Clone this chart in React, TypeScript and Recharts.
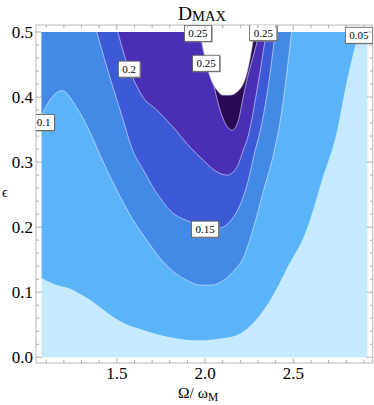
import React from 'react';
import { ComposedChart, Area, Line, Scatter, XAxis, YAxis } from 'recharts';

// ---- axes ----
const xDomain: [number, number] = [1.042, 2.95];
const yDomain: [number, number] = [-0.0088, 0.5108];
const xTicks = [1.1, 1.2, 1.3, 1.4, 1.5, 1.6, 1.7, 1.8, 1.9, 2.0, 2.1, 2.2, 2.3, 2.4, 2.5, 2.6, 2.7, 2.8, 2.9];
const xMajor = [1.5, 2.0, 2.5];
const yTicks = [0, 0.02, 0.04, 0.06, 0.08, 0.1, 0.12, 0.14, 0.16, 0.18, 0.2, 0.22, 0.24, 0.26, 0.28, 0.3, 0.32, 0.34, 0.36, 0.38, 0.4, 0.42, 0.44, 0.46, 0.48, 0.5];
const yMajor = [0, 0.1, 0.2, 0.3, 0.4, 0.5];

// ---- data region ----
const regionX = [1.074, 2.92];
const regionBottom = 0;
const regionTop = 0.5;

// ---- contour boundaries (lower edge of region D > level) ----
const c05X = [1.074, 1.10, 1.15, 1.23, 1.30, 1.35, 1.42, 1.48, 1.56, 1.65, 1.75, 1.84, 1.97, 2.085, 2.18, 2.27, 2.37, 2.466, 2.574, 2.66, 2.75, 2.80, 2.87];
const c05Y = [0.122, 0.118, 0.112, 0.106, 0.096, 0.088, 0.074, 0.062, 0.050, 0.042, 0.034, 0.029, 0.026, 0.029, 0.034, 0.052, 0.088, 0.138, 0.195, 0.27, 0.35, 0.42, 0.5];

const c10X = [1.074, 1.12, 1.19, 1.27, 1.35, 1.40, 1.50, 1.59, 1.67, 1.74, 1.82, 1.90, 1.97, 2.04, 2.085, 2.16, 2.22, 2.27, 2.33, 2.386, 2.43, 2.46, 2.49];
const c10Y = [0.372, 0.395, 0.41, 0.385, 0.345, 0.314, 0.257, 0.212, 0.18, 0.154, 0.132, 0.118, 0.111, 0.111, 0.115, 0.132, 0.155, 0.195, 0.255, 0.31, 0.37, 0.43, 0.5];

const c15X = [1.386, 1.46, 1.53, 1.59, 1.65, 1.72, 1.80, 1.915, 2.0, 2.07, 2.16, 2.24, 2.284, 2.31, 2.36, 2.398];
const c15Y = [0.5, 0.431, 0.37, 0.318, 0.288, 0.255, 0.226, 0.208, 0.199, 0.198, 0.215, 0.267, 0.318, 0.345, 0.42, 0.5];

const c20X = [1.506, 1.557, 1.59, 1.648, 1.727, 1.818, 1.915, 1.99, 2.05, 2.125, 2.18, 2.216, 2.244, 2.30, 2.347];
const c20Y = [0.5, 0.452, 0.43, 0.40, 0.38, 0.354, 0.323, 0.303, 0.288, 0.28, 0.292, 0.318, 0.34, 0.42, 0.5];

const c25X = [1.99, 2.02, 2.045, 2.085, 2.12, 2.153, 2.19, 2.216, 2.245, 2.27, 2.31];
const c25Y = [0.5, 0.46, 0.425, 0.38, 0.357, 0.349, 0.365, 0.40, 0.435, 0.46, 0.5];

const cTopX = [1.97, 2.0, 2.03, 2.07, 2.10, 2.14, 2.19, 2.24, 2.27, 2.28];
const cTopY = [0.5, 0.46, 0.43, 0.41, 0.403, 0.403, 0.41, 0.44, 0.483, 0.5];

// ---- contour labels ----
const labelText = ['0.25', '0.25', '0.25', '0.05', '0.2', '0.1', '0.15'];
const labelX = [1.96, 2.006, 2.33, 2.872, 1.57, 1.085, 2.0];
const labelY = [0.498, 0.452, 0.499, 0.495, 0.443, 0.361, 0.197];

// ---- colours ----
const colBase = '#c5eafd';
const col05 = '#5cb4f8';
const col10 = '#428ae6';
const col15 = '#3d5ad6';
const col20 = '#4a2fb4';
const col25 = '#2b0a55';
const colTop = '#ffffff';
const lineCol = 'rgba(235,235,255,0.65)';

const band = (xs: number[], ys: number[]) =>
  xs.map((x, i) => ({ x, lo: ys[i], r: [ys[i], regionTop] }));

const baseData = regionX.map((x) => ({ x, r: [regionBottom, regionTop] }));
const d05 = band(c05X, c05Y);
const d10 = band(c10X, c10Y);
const d15 = band(c15X, c15Y);
const d20 = band(c20X, c20Y);
const d25 = band(c25X, c25Y);
const dTop = band(cTopX, cTopY);
const labels = labelText.map((t, i) => ({ x: labelX[i], y: labelY[i], t }));

const SERIF = '"Liberation Serif", "Times New Roman", serif';
const serifStyle = { fontFamily: SERIF };
const tickCol = '#9a9a9a';
const frameCol = '#b8b8b8';

const isIn = (arr: number[], v: number) => arr.some((m) => Math.abs(m - v) < 1e-6);

const BottomTick = (p: any) => {
  const v = p.payload.value;
  const major = isIn(xMajor, v);
  return (
    <g>
      <line x1={p.x} x2={p.x} y1={p.y} y2={p.y - (major ? 5 : 3)} stroke={tickCol} strokeWidth={0.8} />
      {major && (
        <text x={p.x} y={p.y + 16} textAnchor="middle" fontSize={17} style={serifStyle} fill="#000">
          {v.toFixed(1)}
        </text>
      )}
    </g>
  );
};

const TopTick = (p: any) => {
  const v = p.payload.value;
  const major = isIn(xMajor, v);
  return <line x1={p.x} x2={p.x} y1={p.y} y2={p.y + (major ? 5 : 3)} stroke={tickCol} strokeWidth={0.8} />;
};

const LeftTick = (p: any) => {
  const v = p.payload.value;
  const major = isIn(yMajor, v);
  return (
    <g>
      <line x1={p.x} x2={p.x + (major ? 6 : 3)} y1={p.y} y2={p.y} stroke={tickCol} strokeWidth={0.8} />
      {major && (
        <text x={p.x - 3} y={p.y + 5.8} textAnchor="end" fontSize={17} style={serifStyle} fill="#000">
          {v.toFixed(1)}
        </text>
      )}
    </g>
  );
};

const RightTick = (p: any) => {
  const v = p.payload.value;
  const major = isIn(yMajor, v);
  return <line x1={p.x} x2={p.x - (major ? 6 : 3)} y1={p.y} y2={p.y} stroke={tickCol} strokeWidth={0.8} />;
};

const LabelBox = (p: any) => {
  const { cx, cy, payload } = p;
  const t: string = payload.t;
  let tw = 0;
  for (const ch of t) tw += ch === '.' ? 2.75 : 5.5;
  const w = tw + 8;
  const h = 16;
  return (
    <g>
      <rect x={cx - w / 2 + 1} y={cy - h / 2 + 1} width={w} height={h} fill="#8c8c8c" />
      <rect x={cx - w / 2} y={cy - h / 2} width={w} height={h} fill="#fff" stroke="#555" strokeWidth={0.8} />
      <text x={cx} y={cy + 4} textAnchor="middle" fontSize={11} style={serifStyle} fill="#000">
        {t}
      </text>
    </g>
  );
};

export default function App() {
  return (
    <div style={{ position: 'absolute', left: 0, top: 0, width: 374, height: 405, background: '#fff', fontFamily: SERIF }}>
      <ComposedChart width={374} height={405} margin={{ top: 24, right: 0.3, bottom: 41, left: 35 }}>
        <XAxis
          xAxisId={0}
          dataKey="x"
          type="number"
          domain={xDomain}
          allowDataOverflow
          ticks={xTicks}
          interval={0}
          height={1}
          tickSize={0}
          tickMargin={0}
          tick={BottomTick}
          tickLine={false}
          axisLine={{ stroke: frameCol }}
        />
        <XAxis
          xAxisId="top"
          orientation="top"
          dataKey="x"
          type="number"
          domain={xDomain}
          allowDataOverflow
          ticks={xTicks}
          interval={0}
          height={1}
          tickSize={0}
          tickMargin={0}
          tick={TopTick}
          tickLine={false}
          axisLine={{ stroke: frameCol }}
        />
        <YAxis
          yAxisId={0}
          type="number"
          domain={yDomain}
          allowDataOverflow
          ticks={yTicks}
          interval={0}
          width={1}
          tickSize={0}
          tickMargin={0}
          tick={LeftTick}
          tickLine={false}
          axisLine={{ stroke: frameCol }}
        />
        <YAxis
          yAxisId="right"
          orientation="right"
          type="number"
          domain={yDomain}
          allowDataOverflow
          ticks={yTicks}
          interval={0}
          width={1}
          tickSize={0}
          tickMargin={0}
          tick={RightTick}
          tickLine={false}
          axisLine={{ stroke: frameCol }}
        />
        <Area data={baseData} dataKey="r" type="linear" fill={colBase} fillOpacity={1} stroke="none" isAnimationActive={false} />
        <Area data={d05} dataKey="r" type="monotone" fill={col05} fillOpacity={1} stroke="none" isAnimationActive={false} />
        <Area data={d10} dataKey="r" type="monotone" fill={col10} fillOpacity={1} stroke="none" isAnimationActive={false} />
        <Area data={d15} dataKey="r" type="monotone" fill={col15} fillOpacity={1} stroke="none" isAnimationActive={false} />
        <Area data={d20} dataKey="r" type="monotone" fill={col20} fillOpacity={1} stroke="none" isAnimationActive={false} />
        <Area data={d25} dataKey="r" type="monotone" fill={col25} fillOpacity={1} stroke="none" isAnimationActive={false} />
        <Area data={dTop} dataKey="r" type="monotone" fill={colTop} fillOpacity={1} stroke="none" isAnimationActive={false} />
        <Line data={d10} dataKey="lo" type="monotone" stroke={lineCol} strokeWidth={0.9} dot={false} isAnimationActive={false} />
        <Line data={d15} dataKey="lo" type="monotone" stroke={lineCol} strokeWidth={0.9} dot={false} isAnimationActive={false} />
        <Line data={d20} dataKey="lo" type="monotone" stroke={lineCol} strokeWidth={0.9} dot={false} isAnimationActive={false} />
        <Line data={d25} dataKey="lo" type="monotone" stroke={lineCol} strokeWidth={0.9} dot={false} isAnimationActive={false} />
        <Line data={dTop} dataKey="lo" type="monotone" stroke="rgba(200,200,220,0.8)" strokeWidth={0.9} dot={false} isAnimationActive={false} />
        <Scatter data={labels} dataKey="y" shape={LabelBox} isAnimationActive={false} />
      </ComposedChart>
      <svg width={374} height={405} style={{ position: 'absolute', left: 0, top: 0, pointerEvents: 'none' }}>
        <text x={178} y={19.5} fontSize={19.5} style={serifStyle} fill="#000">
          D<tspan fontSize={14.5} dy={1.5}>MAX</tspan>
        </text>
        <text x={2} y={197} fontSize={14} style={serifStyle} fill="#000">ϵ</text>
        <text x={178} y={398} fontSize={15.5} style={serifStyle} fill="#000">
          Ω/ ω<tspan fontSize={11.5} dy={3}>M</tspan>
        </text>
      </svg>
    </div>
  );
}
